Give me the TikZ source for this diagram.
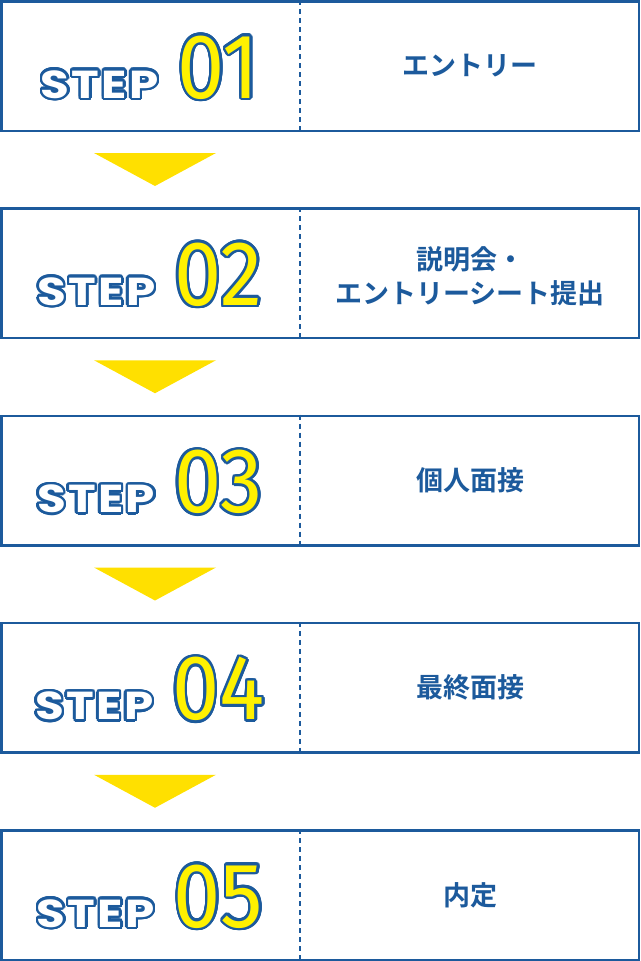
\documentclass[tikz,border=0pt]{standalone}
\usepackage{fontspec}
\usepackage{contour}
\usetikzlibrary{positioning,calc}
\newfontfamily\jpfont{Noto Sans CJK JP Bold}
\newfontfamily\stepfont{Poppins Bold}[FakeStretch=1.2,LetterSpace=6]
\newfontfamily\numfont{Fira Sans}[FakeStretch=0.92,Numbers=Lining]
\definecolor{flowblue}{HTML}{1C5A9C}
\definecolor{arrowyellow}{HTML}{FFE000}
\definecolor{numyellow}{HTML}{FFF100}
\contourlength{2.5pt}
\contournumber{24}

\begin{document}
\begin{tikzpicture}[x=1pt,y=-1pt,
  stepbox/.style={draw=flowblue,line width=2.5pt,minimum width=637.5pt,minimum height=129.5pt,inner sep=0pt},
  divider/.style={draw=flowblue,line width=2.5pt,dash pattern=on 5pt off 4pt},
  steptext/.style={text=flowblue,align=center,inner sep=0pt,font=\jpfont\fontsize{27}{34}\selectfont},
  tri/.style={fill=arrowyellow}]
\useasboundingbox (0,0) rectangle (640,961);
\foreach \i/\t/\dy in {1/{エントリー}/66, 2/{説明会・\\エントリーシート提出}/69,
  3/{個人面接}/66, 4/{最終面接}/66, 5/{内定}/66}{
  \pgfmathsetmacro\ytop{(\i-1)*207.25}
  \node[stepbox] (s\i) at (320,\ytop+66) {};
  \coordinate (d\i) at (300,\ytop);
  \draw[divider] (d\i) -- ++(0,132);
  \node[anchor=base,inner sep=0pt] (n\i) at (150,\ytop+98)
    {\contour{flowblue}{\stepfont\fontsize{39}{39}\selectfont\color{white}STEP}\hspace{19pt}%
     \contour{flowblue}{\numfont\fontsize{92}{92}\selectfont\color{numyellow}0\i}};
  \node[steptext] (t\i) at (470,\ytop+\dy) {\t};
}
% arrows between the steps
\foreach \i in {1,...,4}{
  \pgfmathsetmacro\ytop{(\i-1)*207.25}
  \fill[tri] (94,\ytop+153) -- (216,\ytop+153) -- (155,\ytop+186) -- cycle;
}
\end{tikzpicture}
\end{document}
